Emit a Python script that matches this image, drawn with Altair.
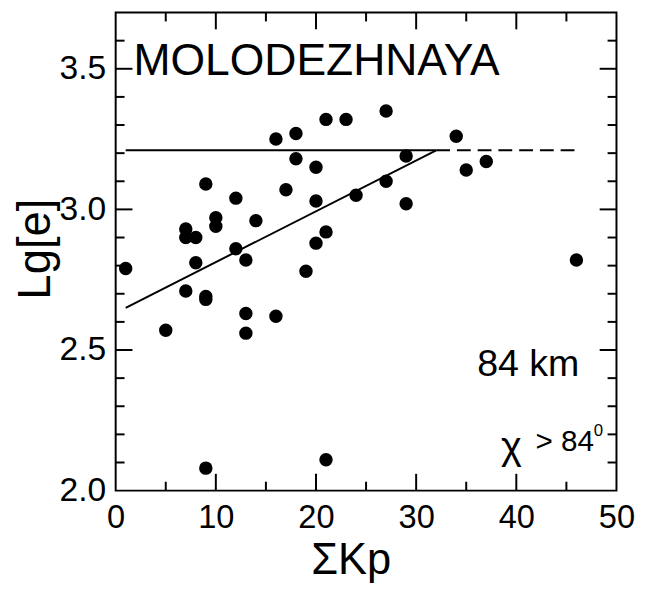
import altair as alt
import pandas as pd

# Data
kp = [1, 5, 7, 7, 7, 8, 8, 9, 9, 9, 9, 10, 10, 12, 12, 13, 13, 13, 14, 16, 16,
      17, 18, 18, 19, 20, 20, 20, 21, 21, 21, 23, 24, 27, 27, 29, 29, 34, 35, 37, 46]
lge = [2.79, 2.57, 2.93, 2.90, 2.71, 2.90, 2.81, 3.09, 2.69, 2.68, 2.08, 2.97, 2.94,
       3.04, 2.86, 2.82, 2.63, 2.56, 2.96, 3.25, 2.62, 3.07, 3.27, 3.18, 2.78, 3.15,
       3.03, 2.88, 3.32, 2.92, 2.11, 3.32, 3.05, 3.35, 3.10, 3.19, 3.02, 3.26, 3.14,
       3.17, 2.82]

reg_x = [1, 32]
reg_y = [2.65, 3.21]
level_solid_x = [1, 32]
level_dash_x = [32, 46]
level_y = 3.21

x_labels = [0, 10, 20, 30, 40, 50]
y_labels = [2.0, 2.5, 3.0, 3.5]
x_major = [10, 20, 30, 40]
x_minor = [5, 15, 25, 35, 45]
y_major = [2.5, 3.0, 3.5]
y_minor = [2.1, 2.2, 2.3, 2.4, 2.6, 2.7, 2.8, 2.9, 3.1, 3.2, 3.3, 3.4, 3.6]

W, H = 507, 484
FONT = "Liberation Sans"
MAJ, MIN = 17, 9

xs = alt.Scale(domain=[0, 50], nice=False)
ys = alt.Scale(domain=[2.0, 3.7], nice=False, zero=False)

x_axis = alt.Axis(values=x_labels, ticks=False, domain=False, grid=False,
                  labelFontSize=33, labelFont=FONT, labelColor="black",
                  labelPadding=11, labelFlush=False,
                  titleFont=FONT, titleFontSize=44, titleFontWeight="normal",
                  titleColor="black", titleX=238, titleY=84,
                  titleBaseline="alphabetic", titleAnchor="start",
                  titleAlign="center")
y_axis = alt.Axis(values=y_labels, format=".1f", ticks=False, domain=False,
                  grid=False, labelFontSize=34, labelFont=FONT,
                  labelColor="black", labelPadding=10, labelFlush=False,
                  titleFont=FONT, titleFontSize=46, titleFontWeight="normal",
                  titleColor="black", titleX=-67, titleY=239,
                  titleAngle=-90, titleBaseline="alphabetic",
                  titleAlign="center", titleAnchor="start")

XT, YT = "ΣKp", "Lg[e]"

def X(field):
    return alt.X(field, type="quantitative", scale=xs, title=XT, axis=x_axis)

def Y(field):
    return alt.Y(field, type="quantitative", scale=ys, title=YT, axis=y_axis)

pts = pd.DataFrame({"kp": kp, "lge": lge})

scatter = alt.Chart(pts).mark_point(filled=True, shape="circle", size=185,
                                    color="black", opacity=1).encode(
    x=X("kp"), y=Y("lge"))

def line_df(xv, yv):
    return pd.DataFrame({"kp": xv, "lge": yv})

reg = alt.Chart(line_df(reg_x, reg_y)).mark_line(color="black", strokeWidth=2).encode(
    x=X("kp"), y=Y("lge"))
lvl = alt.Chart(line_df(level_solid_x, [level_y] * 2)).mark_line(
    color="black", strokeWidth=2).encode(x=X("kp"), y=Y("lge"))
lvl_d = alt.Chart(line_df(level_dash_x, [level_y] * 2)).mark_line(
    color="black", strokeWidth=2, strokeDash=[14, 7]).encode(x=X("kp"), y=Y("lge"))

def yticks(vals, L):
    df = pd.DataFrame({"lge": vals})
    left = alt.Chart(df).mark_rule(color="black", strokeWidth=2).encode(
        y=Y("lge"), x=alt.value(0), x2=alt.value(L))
    right = alt.Chart(df).mark_rule(color="black", strokeWidth=2).encode(
        y=Y("lge"), x=alt.value(W - L), x2=alt.value(W))
    return [left, right]

def xticks(vals, L):
    df = pd.DataFrame({"kp": vals})
    bottom = alt.Chart(df).mark_rule(color="black", strokeWidth=2).encode(
        x=X("kp"), y=alt.value(H), y2=alt.value(H - L))
    top = alt.Chart(df).mark_rule(color="black", strokeWidth=2).encode(
        x=X("kp"), y=alt.value(0), y2=alt.value(L))
    return [bottom, top]

def label(txt, px, py, size):
    return alt.Chart(pd.DataFrame({"t": [txt]})).mark_text(
        font=FONT, fontSize=size, color="black", align="left",
        baseline="alphabetic").encode(x=alt.value(px), y=alt.value(py), text="t:N")

layers = [scatter, reg, lvl, lvl_d]
layers += yticks(y_major, MAJ) + yticks(y_minor, MIN)
layers += xticks(x_major, MAJ) + xticks(x_minor, MIN)
layers += [
    label("MOLODEZHNAYA", 18, 63, 45),
    label("84 km", 366, 368, 38),
    label("χ", 390, 452, 40),
    label("> 84", 425, 444, 30),
    label("0", 484, 429, 17),
]

chart = alt.layer(*layers).properties(
    width=W, height=H, autosize="none",
    padding={"left": 109, "top": 1, "right": 39, "bottom": 96},
    background="white",
).configure_view(stroke="black", strokeWidth=2)

chart.save("out.html", embed_options={"renderer": "svg", "actions": False})
